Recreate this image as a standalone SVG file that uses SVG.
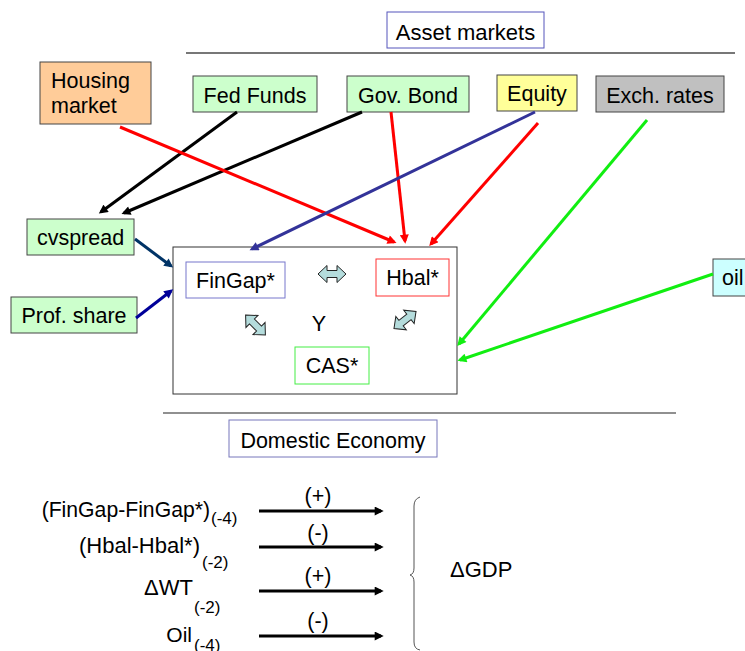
<svg xmlns="http://www.w3.org/2000/svg" width="745" height="651" viewBox="0 0 745 651">
<style>
text{font-family:"Liberation Sans",Arial,sans-serif;fill:#000}
.t21{font-size:21.5px}
.t22{font-size:22px}
.sub{font-size:17px}
.c{text-anchor:middle}
.e{text-anchor:end}
.box{stroke:#444;stroke-width:1}
.con{fill:none;stroke-width:3}
.dbl{fill:#B4DCDC;stroke:#222;stroke-width:1}
</style>
<defs>
<marker id="mk" viewBox="0 0 10 10" refX="7" refY="5" markerWidth="3.5" markerHeight="3" orient="auto"><path d="M0,0 L10,5 L0,10 z" fill="#000"/></marker>
<marker id="mr" viewBox="0 0 10 10" refX="7" refY="5" markerWidth="3.5" markerHeight="3" orient="auto"><path d="M0,0 L10,5 L0,10 z" fill="#FF0000"/></marker>
<marker id="mb" viewBox="0 0 10 10" refX="7" refY="5" markerWidth="3.5" markerHeight="3" orient="auto"><path d="M0,0 L10,5 L0,10 z" fill="#333399"/></marker>
<marker id="mg" viewBox="0 0 10 10" refX="7" refY="5" markerWidth="3.5" markerHeight="3" orient="auto"><path d="M0,0 L10,5 L0,10 z" fill="#11EE11"/></marker>
<marker id="md" viewBox="0 0 10 10" refX="7" refY="5" markerWidth="3.5" markerHeight="3" orient="auto"><path d="M0,0 L10,5 L0,10 z" fill="#003366"/></marker>
<marker id="mn" viewBox="0 0 10 10" refX="7" refY="5" markerWidth="3.5" markerHeight="3" orient="auto"><path d="M0,0 L10,5 L0,10 z" fill="#000099"/></marker>
<path id="dblarrow" d="M-14,0 L-5,-8.5 L-5,-3.5 L5,-3.5 L5,-8.5 L14,0 L5,8.5 L5,3.5 L-5,3.5 L-5,8.5 Z"/>
</defs>
<rect width="745" height="651" fill="#fff"/>

<g id="asset-markets">
<rect x="387" y="12" width="157" height="36" fill="#fff" stroke="#5555bb" stroke-width="1"/>
<text class="t22 c" x="465.5" y="40">Asset markets</text>
<line x1="186" y1="53" x2="735" y2="53" stroke="#777" stroke-width="2"/>
</g>

<g id="housing">
<rect class="box" x="40" y="62" width="111" height="62" fill="#FFCC99" stroke="#7777bb"/>
<text class="t21" x="51" y="88">Housing</text>
<text class="t21" x="51" y="113">market</text>
</g>
<g id="fedfunds">
<rect class="box" x="193" y="76" width="124" height="36" fill="#CCFFCC"/>
<text class="t21 c" x="255" y="103">Fed Funds</text>
</g>
<g id="govbond">
<rect class="box" x="347" y="76" width="122" height="36" fill="#CCFFCC"/>
<text class="t21 c" x="408" y="103">Gov. Bond</text>
</g>
<g id="equity">
<rect class="box" x="497" y="75" width="80" height="36" fill="#FFFF99"/>
<text class="t21 c" x="537" y="101">Equity</text>
</g>
<g id="exch">
<rect class="box" x="596" y="76" width="128" height="36" fill="#C0C0C0"/>
<text class="t21 c" x="660" y="103">Exch. rates</text>
</g>
<g id="cvspread">
<rect class="box" x="27" y="219" width="107" height="36" fill="#CCFFCC"/>
<text class="t21 c" x="80.5" y="245">cvspread</text>
</g>
<g id="profshare">
<rect class="box" x="11" y="297" width="126" height="36" fill="#CCFFCC"/>
<text class="t21 c" x="74" y="323">Prof. share</text>
</g>
<g id="oil">
<rect class="box" x="713" y="259" width="50" height="37" fill="#CCFFFF"/>
<text class="t21" x="722" y="285">oil</text>
</g>

<g id="core">
<rect x="173" y="247" width="284" height="147" fill="#fff" stroke="#333" stroke-width="1"/>
<g id="fingap">
<rect x="186" y="262" width="99" height="36" fill="#fff" stroke="#7777cc" stroke-width="1"/>
<text class="t21 c" x="235.5" y="288">FinGap*</text>
</g>
<g id="hbal">
<rect x="376" y="259" width="73" height="37" fill="#fff" stroke="#FF3333" stroke-width="1"/>
<text class="t21 c" x="412.5" y="285">Hbal*</text>
</g>
<g id="cas">
<rect x="295" y="347" width="74" height="37" fill="#fff" stroke="#44EE44" stroke-width="1"/>
<text class="t21 c" x="332" y="373">CAS*</text>
</g>
<text class="t21 c" x="319" y="331">Y</text>
<use href="#dblarrow" class="dbl" transform="translate(332,274)"/>
<use href="#dblarrow" class="dbl" transform="translate(255.5,325) rotate(45)"/>
<use href="#dblarrow" class="dbl" transform="translate(405,320) rotate(-38)"/>
</g>

<g id="connectors">
<line class="con" stroke="#000" x1="237" y1="112" x2="101" y2="212" marker-end="url(#mk)"/>
<line class="con" stroke="#000" x1="362" y1="112" x2="124" y2="213" marker-end="url(#mk)"/>
<line class="con" stroke="#FF0000" x1="120" y1="127" x2="394" y2="242" marker-end="url(#mr)"/>
<line class="con" stroke="#FF0000" x1="391" y1="112" x2="405" y2="241" marker-end="url(#mr)"/>
<line class="con" stroke="#FF0000" x1="538" y1="123" x2="431" y2="244" marker-end="url(#mr)"/>
<line class="con" stroke="#333399" x1="535" y1="112" x2="252" y2="249" marker-end="url(#mb)"/>
<line class="con" stroke="#11EE11" x1="647" y1="120" x2="459" y2="344" marker-end="url(#mg)"/>
<line class="con" stroke="#11EE11" x1="713" y1="274" x2="460" y2="360" marker-end="url(#mg)"/>
<line class="con" stroke="#003366" x1="135" y1="239" x2="171" y2="266" marker-end="url(#md)"/>
<line class="con" stroke="#000099" x1="136" y1="318" x2="171" y2="291" marker-end="url(#mn)"/>
<line class="con" stroke="#000" x1="259" y1="511" x2="381" y2="511" marker-end="url(#mk)"/>
<line class="con" stroke="#000" x1="259" y1="547" x2="381" y2="547" marker-end="url(#mk)"/>
<line class="con" stroke="#000" x1="259" y1="591" x2="381" y2="591" marker-end="url(#mk)"/>
<line class="con" stroke="#000" x1="259" y1="636" x2="381" y2="636" marker-end="url(#mk)"/>
</g>

<g id="domestic">
<line x1="163" y1="413" x2="676" y2="413" stroke="#222" stroke-width="1.2"/>
<rect x="229" y="420" width="208" height="37" fill="#fff" stroke="#7777bb" stroke-width="1"/>
<text class="t21 c" x="333" y="448">Domestic Economy</text>
</g>

<g id="equation">
<text class="t21 c" x="318" y="503">(+)</text>
<text class="t21 c" x="318" y="540">(-)</text>
<text class="t21 c" x="318" y="583">(+)</text>
<text class="t21 c" x="318" y="628">(-)</text>
<text class="e" style="font-size:21.2px" x="210" y="517">(FinGap-FinGap*)</text>
<text class="sub" x="211" y="524">(-4)</text>
<text class="t22 e" x="200" y="553">(Hbal-Hbal*)</text>
<text class="sub" x="202" y="568">(-2)</text>
<text class="t22 e" x="193" y="595">ΔWT</text>
<text class="sub" x="194" y="613">(-2)</text>
<text class="e" style="font-size:21px" x="192" y="642">Oil</text>
<text class="sub" x="194" y="651">(-4)</text>
<path d="M420,497 Q414,499 414,506 L414,568 Q414,574 410,575 Q414,576 414,582 L414,642 Q414,649 420,650" fill="none" stroke="#555" stroke-width="1"/>
<text class="t22" x="450" y="577">ΔGDP</text>
</g>
</svg>
